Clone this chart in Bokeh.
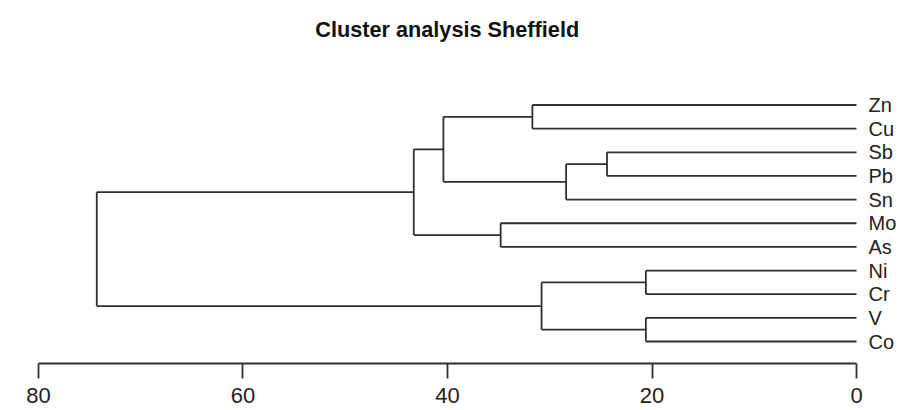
from bokeh.plotting import figure
from bokeh.models import Range1d, FixedTicker, ColumnDataSource, LinearAxis
from bokeh.core.properties import value
from bokeh.embed import file_html
from bokeh.resources import INLINE

title_text = "Cluster analysis Sheffield"
leaves = ["Zn", "Cu", "Sb", "Pb", "Sn", "Mo", "As", "Ni", "Cr", "V", "Co"]
# R-style merge matrix: negative = leaf (1-based), positive = earlier merge (1-based)
merge_left = [-1, -3, 2, 1, -6, 4, -8, -10, 7, 6]
merge_right = [-2, -4, -5, 3, -7, 5, -9, -11, 8, 9]
merge_height = [31.7, 24.4, 28.4, 40.4, 34.8, 43.3, 20.6, 20.6, 30.8, 74.3]
tick_values = [0, 20, 40, 60, 80]

n = len(leaves)
leaf_y = [n - i for i in range(n)]

node_y = {}
node_h = {}
for i in range(n):
    node_y[-(i + 1)] = leaf_y[i]
    node_h[-(i + 1)] = 0.0

x0, y0, x1, y1 = [], [], [], []
for k, (a, b, h) in enumerate(zip(merge_left, merge_right, merge_height)):
    ya, yb = node_y[a], node_y[b]
    x0 += [node_h[a], node_h[b], h]
    x1 += [h, h, h]
    y0 += [ya, yb, ya]
    y1 += [ya, yb, yb]
    node_y[k + 1] = (ya + yb) / 2.0
    node_h[k + 1] = h

W, H = 905, 408
p = figure(width=W, height=H, output_backend="svg", toolbar_location=None,
           x_range=Range1d(83.716, -4.792), y_range=Range1d(-1.833, 15.419),
           min_border_left=0, min_border_right=0, min_border_top=0, min_border_bottom=0,
           x_axis_location=None, y_axis_location=None,
           background_fill_color="white", border_fill_color="white")
p.outline_line_color = None
p.grid.visible = False

seg = ColumnDataSource(dict(x0=x0, y0=y0, x1=x1, y1=y1))
p.segment(x0="x0", y0="y0", x1="x1", y1="y1", source=seg, line_color="#303030", line_width=1.8)

lab = ColumnDataSource(dict(x=[0.0] * n, y=leaf_y, t=leaves))
p.text(x="x", y="y", text="t", source=lab, x_offset=12, text_baseline="middle", text_align="left",
       text_font=value("Liberation Sans"), text_font_size="20px", text_color="#222222")

p.text(x=[40.03], y=[14.193], text=[title_text], text_align="center", text_baseline="middle",
       text_font=value("Liberation Sans"), text_font_size="21.7px", text_font_style="bold",
       text_color="#111111")

ax = LinearAxis(fixed_location=0.07)
ax.ticker = FixedTicker(ticks=tick_values)
ax.bounds = (0, 80)
ax.minor_tick_line_color = None
ax.major_tick_in = 0
ax.major_tick_out = 15
ax.major_label_standoff = 10
ax.axis_line_color = "#303030"
ax.axis_line_width = 1.8
ax.major_tick_line_color = "#303030"
ax.major_tick_line_width = 1.8
ax.major_label_text_font = "Liberation Sans"
ax.major_label_text_font_size = "22px"
ax.major_label_text_color = "#222222"
p.add_layout(ax, "below")

open("out.html", "w").write(file_html(p, INLINE))
